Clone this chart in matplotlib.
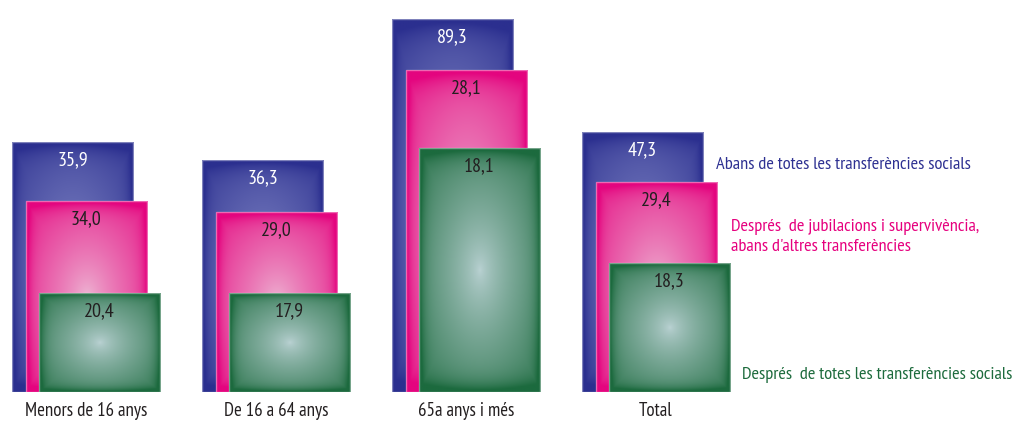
"""
Overlapping (nested) bar chart: poverty rate before/after social transfers.
"""

import matplotlib
matplotlib.use("Agg")
import matplotlib.pyplot as plt
import numpy as np
from matplotlib.colors import to_rgb

categories = ["Menors de 16 anys", "De 16 a 64 anys", "65a anys i més", "Total"]
before_all = [35.9, 36.3, 89.3, 47.3]
after_pensions = [34.0, 29.0, 28.1, 29.4]
after_all = [20.4, 17.9, 18.1, 18.3]

# the original draws the bars to a decorative (non linear) scale,
# so the drawn heights are read off the picture separately
height_before_all = [250, 232, 373, 260]
height_after_pensions = [191, 180, 322, 210]
height_after_all = [99, 99, 244, 129]

series_names = [
    "Abans de totes les transferències socials",
    "Després  de jubilacions i supervivència,\nabans d'altres transferències",
    "Després  de totes les transferències socials",
]

FONT = ["PT Sans Narrow", "Roboto Condensed", "DejaVu Sans"]
FS = 13.2
TEXT_COLORS = ["#2e3192", "#e6007e", "#1d6b3d"]
# (edge colour, centre colour) of the radial gradients
BAR_COLORS = [
    ("#2b2f8f", "#8a90cb"),
    ("#e4057f", "#eebbd6"),
    ("#1c6a3e", "#bcd3d5"),
]
LABEL_COLORS = ["white", "#231f20", "#231f20"]

BAR_W = 0.637
SHIFT = 0.071


def gradient(edge, centre, n=160):
    yy, xx = np.mgrid[-1:1:n * 1j, -1:1:n * 1j]
    d = np.sqrt(xx ** 2 + yy ** 2) / np.sqrt(2)
    box = np.maximum(np.abs(xx), np.abs(yy))
    t = np.clip(0.85 * d ** 0.72 + 0.4 * box ** 12, 0, 1)
    e = np.array(to_rgb(edge))
    c = np.array(to_rgb(centre))
    return c * (1 - t[..., None]) + e * t[..., None]


fig = plt.figure(figsize=(10.14, 4.21), dpi=100)
ax = fig.add_axes([0, 0, 1, 1])
ax.set_xlim(-86 / 190, (1014 - 86) / 190)
ax.set_ylim(-29, 392)
ax.axis("off")

values = [before_all, after_pensions, after_all]
heights = [height_before_all, height_after_pensions, height_after_all]
for i, cat in enumerate(categories):
    for k in range(3):
        left = i - 0.389 + k * SHIFT
        h = heights[k][i]
        edge, centre = BAR_COLORS[k]
        ax.imshow(gradient(edge, centre), extent=(left, left + BAR_W, 0, h),
                  origin="lower", aspect="auto", interpolation="bilinear",
                  zorder=2 + k)
        ax.add_patch(plt.Rectangle((left, 0), BAR_W, h, fill=False,
                                   edgecolor="white", alpha=0.4, lw=1.0,
                                   zorder=2 + k))
        ax.text(left + BAR_W / 2, h - 18, f"{values[k][i]:.1f}".replace(".", ","),
                ha="center", va="center", fontsize=14.5, family=FONT,
                color=LABEL_COLORS[k], zorder=5)
    ax.text(i, -19, cat, ha="center", va="center", fontsize=13.6, family=FONT,
            color="#231f20")

# series names placed next to the "Total" group
fig.text(716 / 1014, 1 - 165 / 421, series_names[0], ha="left", va="center",
         fontsize=FS, family=FONT, color=TEXT_COLORS[0])
fig.text(731 / 1014, 1 - 237 / 421, series_names[1], ha="left", va="center",
         fontsize=FS, family=FONT, color=TEXT_COLORS[1], linespacing=1.4)
fig.text(742 / 1014, 1 - 375 / 421, series_names[2], ha="left", va="center",
         fontsize=FS, family=FONT, color=TEXT_COLORS[2])

fig.savefig("out.png", dpi=100, facecolor="white")
